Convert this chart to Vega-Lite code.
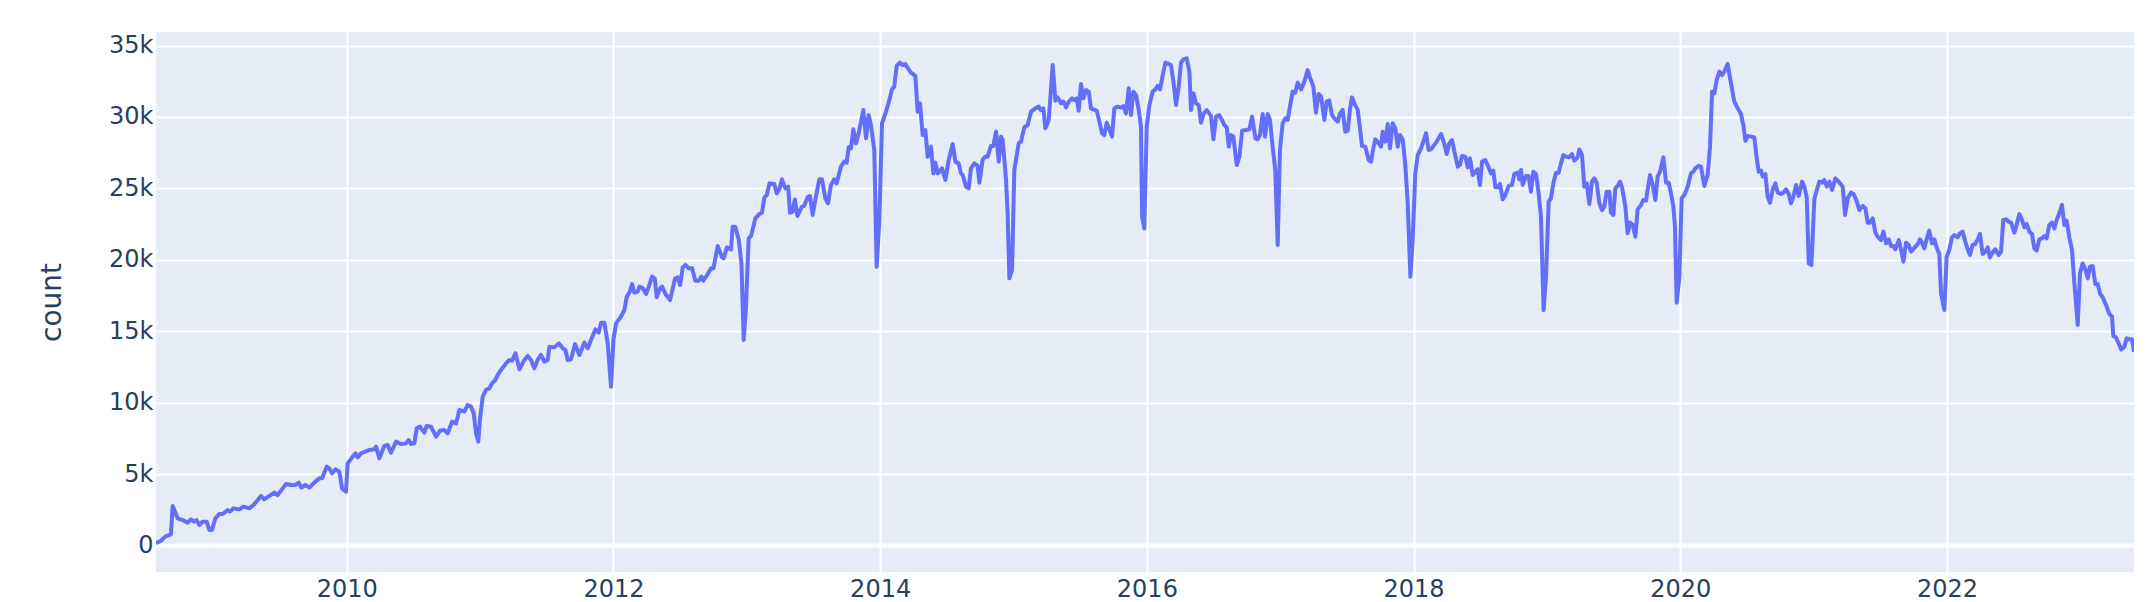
{
"$schema": "https://vega.github.io/schema/vega-lite/v6.json",
"width": 1978, "height": 540,
"autosize": {"type": "none"},
"padding": {"left": 156, "top": 32, "right": 20, "bottom": 30},
"background": "white",
"config": {"view": {"fill": "#E5ECF6", "stroke": null}, "font": "DejaVu Sans"},
"layer": [
{"data": {"values": [{"count": 0}]},
 "mark": {"type": "rule", "color": "white", "strokeWidth": 4},
 "encoding": {"y": {"field": "count", "type": "quantitative"}}},
{"data": {"values": [
{"year":2008.570,"count":150},{"year":2008.607,"count":340},{"year":2008.645,"count":660},{"year":2008.682,"count":780},{"year":2008.695,"count":2770},{"year":2008.732,"count":1900},{"year":2008.770,"count":1780},{"year":2008.807,"count":1600},{"year":2008.832,"count":1830},{"year":2008.857,"count":1670},{"year":2008.875,"count":1780},{"year":2008.895,"count":1430},{"year":2008.920,"count":1670},{"year":2008.950,"count":1670},{"year":2008.970,"count":1090},{"year":2008.990,"count":1090},{"year":2009.015,"count":1900},{"year":2009.045,"count":2200},{"year":2009.070,"count":2200},{"year":2009.107,"count":2480},{"year":2009.125,"count":2370},{"year":2009.150,"count":2600},{"year":2009.195,"count":2530},{"year":2009.225,"count":2720},{"year":2009.270,"count":2600},{"year":2009.300,"count":2830},{"year":2009.327,"count":3120},{"year":2009.357,"count":3470},{"year":2009.382,"count":3230},{"year":2009.420,"count":3470},{"year":2009.457,"count":3700},{"year":2009.482,"count":3530},{"year":2009.515,"count":3930},{"year":2009.545,"count":4300},{"year":2009.582,"count":4240},{"year":2009.615,"count":4240},{"year":2009.640,"count":4400},{"year":2009.662,"count":4050},{"year":2009.690,"count":4240},{"year":2009.720,"count":4050},{"year":2009.757,"count":4400},{"year":2009.795,"count":4700},{"year":2009.815,"count":4700},{"year":2009.850,"count":5520},{"year":2009.870,"count":5400},{"year":2009.890,"count":5050},{"year":2009.915,"count":5330},{"year":2009.945,"count":5170},{"year":2009.965,"count":4000},{"year":2009.995,"count":3770},{"year":2010.007,"count":5750},{"year":2010.045,"count":6220},{"year":2010.065,"count":6450},{"year":2010.082,"count":6170},{"year":2010.107,"count":6450},{"year":2010.170,"count":6690},{"year":2010.207,"count":6730},
{"year":2010.220,"count":6920},{"year":2010.245,"count":6100},{"year":2010.282,"count":6970},{"year":2010.307,"count":7040},{"year":2010.332,"count":6500},{"year":2010.370,"count":7270},{"year":2010.407,"count":7100},{"year":2010.445,"count":7150},{"year":2010.465,"count":7380},{"year":2010.482,"count":7100},{"year":2010.507,"count":7150},{"year":2010.525,"count":8200},{"year":2010.550,"count":8320},{"year":2010.582,"count":7900},{"year":2010.600,"count":8370},{"year":2010.632,"count":8320},{"year":2010.670,"count":7620},{"year":2010.700,"count":8040},{"year":2010.732,"count":8080},{"year":2010.757,"count":7850},{"year":2010.790,"count":8670},{"year":2010.820,"count":8550},{"year":2010.845,"count":9490},{"year":2010.882,"count":9370},{"year":2010.907,"count":9840},{"year":2010.932,"count":9720},{"year":2010.952,"count":9250},{"year":2010.970,"count":7850},{"year":2010.987,"count":7270},{"year":2011.000,"count":8900},{"year":2011.020,"count":10420},{"year":2011.045,"count":10900},{"year":2011.070,"count":11000},{"year":2011.090,"count":11350},{"year":2011.115,"count":11600},{"year":2011.132,"count":11930},{"year":2011.157,"count":12290},{"year":2011.195,"count":12750},{"year":2011.220,"count":12990},{"year":2011.240,"count":12940},{"year":2011.265,"count":13450},{"year":2011.295,"count":12330},{"year":2011.332,"count":12990},{"year":2011.357,"count":13270},{"year":2011.382,"count":12990},{"year":2011.407,"count":12400},{"year":2011.432,"count":12990},{"year":2011.457,"count":13340},{"year":2011.482,"count":12870},{"year":2011.507,"count":12990},{"year":2011.520,"count":13920},{"year":2011.557,"count":13870},{"year":2011.590,"count":14150},{"year":2011.620,"count":13800},{"year":2011.640,"count":13690},{"year":2011.657,"count":12990},{"year":2011.682,"count":13030},{"year":2011.712,"count":14100},{"year":2011.745,"count":13340},{"year":2011.782,"count":14200},{"year":2011.807,"count":13800},{"year":2011.832,"count":14390},{"year":2011.865,"count":15130},
{"year":2011.890,"count":14900},{"year":2011.907,"count":15600},{"year":2011.932,"count":15600},{"year":2011.957,"count":14150},{"year":2011.982,"count":11120},{"year":2012.000,"count":14390},{"year":2012.020,"count":15550},{"year":2012.057,"count":16020},{"year":2012.082,"count":16480},{"year":2012.100,"count":17420},{"year":2012.120,"count":17700},{"year":2012.140,"count":18300},{"year":2012.157,"count":17700},{"year":2012.182,"count":17770},{"year":2012.195,"count":18120},{"year":2012.220,"count":18000},{"year":2012.245,"count":17600},{"year":2012.265,"count":18120},{"year":2012.290,"count":18820},{"year":2012.310,"count":18700},{"year":2012.325,"count":17370},{"year":2012.350,"count":18000},{"year":2012.365,"count":18120},{"year":2012.395,"count":17530},{"year":2012.425,"count":17190},{"year":2012.462,"count":18700},{"year":2012.482,"count":18770},{"year":2012.500,"count":18230},{"year":2012.520,"count":19470},{"year":2012.540,"count":19640},{"year":2012.565,"count":19400},{"year":2012.590,"count":19400},{"year":2012.614,"count":18540},{"year":2012.640,"count":18540},{"year":2012.660,"count":18820},{"year":2012.674,"count":18540},{"year":2012.707,"count":19000},{"year":2012.732,"count":19400},{"year":2012.750,"count":19400},{"year":2012.782,"count":20960},{"year":2012.814,"count":20170},{"year":2012.827,"count":20100},{"year":2012.850,"count":20870},{"year":2012.882,"count":20730},{"year":2012.894,"count":22320},{"year":2012.914,"count":22320},{"year":2012.940,"count":21380},{"year":2012.960,"count":19750},{"year":2012.977,"count":14390},{"year":2012.994,"count":16720},{"year":2013.014,"count":21500},{"year":2013.032,"count":21670},{"year":2013.064,"count":22900},{"year":2013.094,"count":23200},{"year":2013.114,"count":23300},{"year":2013.132,"count":24370},{"year":2013.150,"count":24530},{"year":2013.170,"count":25350},{"year":2013.207,"count":25300},{"year":2013.224,"count":24650},{"year":2013.244,"count":24930},{"year":2013.264,"count":25630},{"year":2013.289,"count":25000},{"year":2013.310,"count":25120},{"year":2013.324,"count":23300},{"year":2013.344,"count":23370},{"year":2013.360,"count":24230},{"year":2013.380,"count":23070},{"year":2013.414,"count":23720},{"year":2013.430,"count":23770},{"year":2013.456,"count":24370},{"year":2013.474,"count":24460},{"year":2013.494,"count":23140},{"year":2013.520,"count":24500},
{"year":2013.544,"count":25630},{"year":2013.564,"count":25630},{"year":2013.589,"count":24300},{"year":2013.609,"count":23950},{"year":2013.631,"count":25240},{"year":2013.656,"count":25630},{"year":2013.674,"count":25350},{"year":2013.706,"count":26520},{"year":2013.731,"count":26870},{"year":2013.749,"count":26800},{"year":2013.764,"count":27870},{"year":2013.781,"count":27800},{"year":2013.799,"count":29130},{"year":2013.819,"count":28150},{"year":2013.839,"count":28850},{"year":2013.874,"count":30480},{"year":2013.894,"count":28500},{"year":2013.914,"count":30130},{"year":2013.931,"count":29430},{"year":2013.956,"count":27680},{"year":2013.974,"count":19520},{"year":2013.994,"count":22780},{"year":2014.014,"count":29550},{"year":2014.044,"count":30370},{"year":2014.069,"count":31180},{"year":2014.089,"count":31930},{"year":2014.106,"count":32120},{"year":2014.124,"count":33570},{"year":2014.149,"count":33800},{"year":2014.169,"count":33630},{"year":2014.189,"count":33700},{"year":2014.214,"count":33330},{"year":2014.231,"count":33100},{"year":2014.264,"count":32870},{"year":2014.281,"count":30370},{"year":2014.299,"count":30950},{"year":2014.319,"count":28730},{"year":2014.339,"count":29080},{"year":2014.356,"count":27220},{"year":2014.381,"count":27920},{"year":2014.399,"count":26050},{"year":2014.414,"count":26800},{"year":2014.431,"count":26050},{"year":2014.464,"count":26400},{"year":2014.489,"count":25590},{"year":2014.514,"count":26980},{"year":2014.544,"count":28100},{"year":2014.564,"count":26870},{"year":2014.589,"count":26750},{"year":2014.606,"count":26050},{"year":2014.619,"count":25940},{"year":2014.644,"count":25120},{"year":2014.664,"count":25000},{"year":2014.681,"count":26400},{"year":2014.706,"count":26750},{"year":2014.731,"count":26570},{"year":2014.744,"count":25400},{"year":2014.769,"count":27030},{"year":2014.789,"count":27220},{"year":2014.806,"count":27220},{"year":2014.831,"count":27970},{"year":2014.849,"count":27970},{"year":2014.869,"count":28970},{"year":2014.889,"count":26870},{"year":2014.906,"count":28620},{"year":2014.919,"count":28380},{"year":2014.944,"count":25590},{"year":2014.956,"count":23250},{"year":2014.969,"count":18700},{"year":2014.989,"count":19290},{"year":2015.006,"count":26280},{"year":2015.039,"count":28150},{"year":2015.056,"count":28270},{"year":2015.081,"count":29270},{"year":2015.106,"count":29430},{"year":2015.131,"count":30370},{"year":2015.164,"count":30600},
{"year":2015.189,"count":30720},{"year":2015.206,"count":30480},{"year":2015.224,"count":30600},{"year":2015.239,"count":29200},{"year":2015.264,"count":29780},{"year":2015.294,"count":33630},{"year":2015.314,"count":31140},{"year":2015.331,"count":31370},{"year":2015.356,"count":30950},{"year":2015.374,"count":31070},{"year":2015.394,"count":30670},{"year":2015.414,"count":31070},{"year":2015.439,"count":31300},{"year":2015.456,"count":31180},{"year":2015.474,"count":31300},{"year":2015.489,"count":30440},{"year":2015.506,"count":32300},{"year":2015.524,"count":31300},{"year":2015.544,"count":31880},{"year":2015.564,"count":31770},{"year":2015.581,"count":30600},{"year":2015.599,"count":30530},{"year":2015.624,"count":30440},{"year":2015.644,"count":29670},{"year":2015.664,"count":28850},{"year":2015.681,"count":28730},{"year":2015.699,"count":29600},{"year":2015.719,"count":29130},{"year":2015.739,"count":28620},{"year":2015.756,"count":30600},{"year":2015.781,"count":30720},{"year":2015.806,"count":30650},{"year":2015.824,"count":30760},{"year":2015.844,"count":30250},{"year":2015.864,"count":32000},{"year":2015.881,"count":30130},{"year":2015.899,"count":31770},{"year":2015.919,"count":31540},{"year":2015.939,"count":30480},{"year":2015.956,"count":29320},{"year":2015.964,"count":23020},{"year":2015.981,"count":22200},{"year":2015.999,"count":29320},{"year":2016.019,"count":30830},{"year":2016.044,"count":31770},{"year":2016.064,"count":31930},{"year":2016.081,"count":32170},{"year":2016.099,"count":31930},{"year":2016.119,"count":32930},{"year":2016.139,"count":33800},{"year":2016.164,"count":33700},{"year":2016.181,"count":33630},{"year":2016.199,"count":32470},{"year":2016.219,"count":30830},{"year":2016.239,"count":32120},{"year":2016.256,"count":33800},{"year":2016.274,"count":34030},{"year":2016.299,"count":34100},{"year":2016.319,"count":33170},{"year":2016.331,"count":30480},{"year":2016.349,"count":31650},{"year":2016.369,"count":30950},{"year":2016.389,"count":30830},{"year":2016.406,"count":29600},{"year":2016.424,"count":30200},{"year":2016.449,"count":30480},{"year":2016.481,"count":30070},{"year":2016.499,"count":28430},{"year":2016.519,"count":30020},{"year":2016.544,"count":30130},{"year":2016.564,"count":29780},{"year":2016.581,"count":29430},{"year":2016.599,"count":29270},{"year":2016.614,"count":27920},{"year":2016.631,"count":28730},{"year":2016.649,"count":28620},{"year":2016.674,"count":26630},{"year":2016.694,"count":27220},{"year":2016.714,"count":29040},{"year":2016.744,"count":29080},{"year":2016.769,"count":29130},{"year":2016.789,"count":30020},{"year":2016.814,"count":28500},
{"year":2016.831,"count":28430},{"year":2016.848,"count":28730},{"year":2016.868,"count":30200},{"year":2016.886,"count":28620},{"year":2016.906,"count":30200},{"year":2016.923,"count":29790},{"year":2016.943,"count":27920},{"year":2016.963,"count":26290},{"year":2016.981,"count":21040},{"year":2016.998,"count":27690},{"year":2017.018,"count":29550},{"year":2017.038,"count":29900},{"year":2017.056,"count":29790},{"year":2017.073,"count":30720},{"year":2017.093,"count":31770},{"year":2017.113,"count":31700},{"year":2017.131,"count":32400},{"year":2017.156,"count":31930},{"year":2017.181,"count":32470},{"year":2017.206,"count":33280},{"year":2017.223,"count":32770},{"year":2017.248,"count":32120},{"year":2017.268,"count":30300},{"year":2017.288,"count":31610},{"year":2017.306,"count":31420},{"year":2017.331,"count":29790},{"year":2017.348,"count":31070},{"year":2017.368,"count":31140},{"year":2017.388,"count":30140},{"year":2017.406,"count":29900},{"year":2017.431,"count":29670},{"year":2017.448,"count":30250},{"year":2017.468,"count":30490},{"year":2017.488,"count":28970},{"year":2017.506,"count":29040},{"year":2017.523,"count":30530},{"year":2017.538,"count":31370},{"year":2017.556,"count":30950},{"year":2017.581,"count":30490},{"year":2017.598,"count":29200},{"year":2017.613,"count":27960},{"year":2017.638,"count":27920},{"year":2017.663,"count":26990},{"year":2017.681,"count":26870},{"year":2017.698,"count":27800},{"year":2017.713,"count":28430},{"year":2017.738,"count":28150},{"year":2017.756,"count":27920},{"year":2017.768,"count":28970},{"year":2017.788,"count":28270},{"year":2017.806,"count":29500},{"year":2017.823,"count":27800},{"year":2017.843,"count":29550},{"year":2017.863,"count":29200},{"year":2017.881,"count":27920},{"year":2017.898,"count":28730},{"year":2017.918,"count":28430},{"year":2017.938,"count":26640},{"year":2017.956,"count":23950},{"year":2017.976,"count":18820},{"year":2017.993,"count":21380},{"year":2018.013,"count":26050},{"year":2018.031,"count":27330},{"year":2018.056,"count":27800},{"year":2018.073,"count":28270},{"year":2018.093,"count":28850},{"year":2018.113,"count":27690},{"year":2018.131,"count":27730},{"year":2018.168,"count":28200},{"year":2018.206,"count":28800},{"year":2018.231,"count":28100},{"year":2018.248,"count":27400},{"year":2018.268,"count":28150},{"year":2018.288,"count":28380},{"year":2018.313,"count":27270},{"year":2018.331,"count":26520},{"year":2018.348,"count":26640},{"year":2018.363,"count":27270},{"year":2018.388,"count":27220},{"year":2018.406,"count":26470},{"year":2018.423,"count":27100},{"year":2018.443,"count":25940},{"year":2018.463,"count":26170},
{"year":2018.480,"count":26330},{"year":2018.498,"count":25240},{"year":2018.513,"count":26870},{"year":2018.538,"count":26980},{"year":2018.563,"count":26470},{"year":2018.580,"count":26050},{"year":2018.598,"count":26240},{"year":2018.613,"count":25070},{"year":2018.630,"count":25070},{"year":2018.648,"count":25310},{"year":2018.668,"count":24230},{"year":2018.688,"count":24530},{"year":2018.713,"count":25170},{"year":2018.738,"count":25240},{"year":2018.755,"count":26000},{"year":2018.780,"count":26100},{"year":2018.793,"count":25630},{"year":2018.805,"count":26280},{"year":2018.818,"count":25240},{"year":2018.843,"count":25870},{"year":2018.863,"count":25870},{"year":2018.880,"count":24770},{"year":2018.898,"count":26170},{"year":2018.918,"count":26000},{"year":2018.938,"count":24650},{"year":2018.955,"count":23020},{"year":2018.975,"count":16480},{"year":2018.993,"count":18820},{"year":2019.013,"count":24070},{"year":2019.030,"count":24300},{"year":2019.048,"count":25350},{"year":2019.068,"count":26100},{"year":2019.088,"count":26100},{"year":2019.105,"count":26750},{"year":2019.123,"count":27330},{"year":2019.143,"count":27220},{"year":2019.163,"count":27170},{"year":2019.188,"count":27400},{"year":2019.205,"count":26940},{"year":2019.230,"count":27170},{"year":2019.243,"count":27730},{"year":2019.263,"count":27330},{"year":2019.280,"count":25120},{"year":2019.298,"count":25350},{"year":2019.318,"count":23900},{"year":2019.338,"count":25470},{"year":2019.355,"count":25700},{"year":2019.373,"count":25400},{"year":2019.393,"count":23950},{"year":2019.413,"count":23480},{"year":2019.430,"count":23720},{"year":2019.448,"count":24770},{"year":2019.468,"count":24770},{"year":2019.480,"count":23300},{"year":2019.498,"count":23140},{"year":2019.513,"count":25000},{"year":2019.530,"count":25170},{"year":2019.548,"count":25470},{"year":2019.563,"count":25070},{"year":2019.588,"count":23720},{"year":2019.605,"count":21850},{"year":2019.623,"count":22600},{"year":2019.643,"count":22440},{"year":2019.663,"count":21620},{"year":2019.680,"count":23530},{"year":2019.705,"count":23840},{"year":2019.723,"count":24190},{"year":2019.743,"count":24140},{"year":2019.755,"count":24890},{"year":2019.773,"count":25940},{"year":2019.793,"count":25240},{"year":2019.813,"count":24190},{"year":2019.830,"count":25820},{"year":2019.848,"count":26170},{"year":2019.873,"count":27170},{"year":2019.893,"count":25400},{"year":2019.913,"count":25400},{"year":2019.930,"count":24650},{"year":2019.948,"count":23720},{"year":2019.960,"count":22320},{"year":2019.973,"count":17000},{"year":2019.993,"count":18820},{"year":2020.010,"count":24300},{"year":2020.030,"count":24530},{"year":2020.055,"count":25120},{"year":2020.080,"count":26050},{"year":2020.098,"count":26170},{"year":2020.113,"count":26400},
{"year":2020.138,"count":26570},{"year":2020.155,"count":26520},{"year":2020.180,"count":25170},{"year":2020.205,"count":25940},{"year":2020.223,"count":27920},{"year":2020.238,"count":31770},{"year":2020.255,"count":31650},{"year":2020.273,"count":32590},{"year":2020.293,"count":33170},{"year":2020.313,"count":32930},{"year":2020.330,"count":33170},{"year":2020.355,"count":33700},{"year":2020.380,"count":32350},{"year":2020.405,"count":31070},{"year":2020.430,"count":30600},{"year":2020.455,"count":30200},{"year":2020.473,"count":29430},{"year":2020.488,"count":28340},{"year":2020.505,"count":28660},{"year":2020.530,"count":28620},{"year":2020.555,"count":28570},{"year":2020.573,"count":27100},{"year":2020.588,"count":26170},{"year":2020.605,"count":26240},{"year":2020.618,"count":25820},{"year":2020.638,"count":26000},{"year":2020.655,"count":24420},{"year":2020.673,"count":24000},{"year":2020.693,"count":24930},{"year":2020.713,"count":25350},{"year":2020.730,"count":24700},{"year":2020.755,"count":24610},{"year":2020.773,"count":24700},{"year":2020.793,"count":24930},{"year":2020.813,"count":24610},{"year":2020.830,"count":23950},{"year":2020.848,"count":24420},{"year":2020.868,"count":25240},{"year":2020.888,"count":24470},{"year":2020.913,"count":25470},{"year":2020.930,"count":25120},{"year":2020.948,"count":24370},{"year":2020.963,"count":19750},{"year":2020.983,"count":19630},{"year":2021.005,"count":24230},{"year":2021.023,"count":24880},{"year":2021.043,"count":25470},{"year":2021.063,"count":25400},{"year":2021.080,"count":25590},{"year":2021.098,"count":25120},{"year":2021.118,"count":25470},{"year":2021.138,"count":24880},{"year":2021.163,"count":25700},{"year":2021.188,"count":25470},{"year":2021.218,"count":25120},{"year":2021.235,"count":23140},{"year":2021.255,"count":24300},{"year":2021.280,"count":24700},{"year":2021.298,"count":24610},{"year":2021.318,"count":24230},{"year":2021.343,"count":23480},{"year":2021.368,"count":23770},{"year":2021.388,"count":23600},{"year":2021.405,"count":22600},{"year":2021.423,"count":22600},{"year":2021.443,"count":22900},{"year":2021.463,"count":21900},{"year":2021.480,"count":21620},{"year":2021.505,"count":21380},{"year":2021.523,"count":21970},{"year":2021.543,"count":21150},{"year":2021.563,"count":21430},{"year":2021.580,"count":20960},{"year":2021.598,"count":20960},{"year":2021.613,"count":20730},{"year":2021.638,"count":21380},{"year":2021.655,"count":20730},{"year":2021.673,"count":19870},{"year":2021.693,"count":21200},{"year":2021.713,"count":21030},{"year":2021.730,"count":20570},{"year":2021.763,"count":20920},
{"year":2021.780,"count":21100},{"year":2021.797,"count":21430},{"year":2021.812,"count":21200},{"year":2021.830,"count":20800},{"year":2021.847,"count":21430},{"year":2021.867,"count":22040},{"year":2021.887,"count":21150},{"year":2021.905,"count":21430},{"year":2021.922,"count":20870},{"year":2021.942,"count":20410},{"year":2021.955,"count":17650},{"year":2021.980,"count":16490},{"year":2021.997,"count":20220},{"year":2022.017,"count":20690},{"year":2022.037,"count":21570},{"year":2022.055,"count":21730},{"year":2022.080,"count":21570},{"year":2022.097,"count":21850},{"year":2022.117,"count":21970},{"year":2022.137,"count":21270},{"year":2022.155,"count":20730},{"year":2022.172,"count":20340},{"year":2022.192,"count":21040},{"year":2022.212,"count":21100},{"year":2022.230,"count":21430},{"year":2022.247,"count":21810},{"year":2022.267,"count":20410},{"year":2022.287,"count":20570},{"year":2022.305,"count":20870},{"year":2022.322,"count":20170},{"year":2022.337,"count":20450},{"year":2022.362,"count":20730},{"year":2022.387,"count":20340},{"year":2022.405,"count":20570},{"year":2022.422,"count":22790},{"year":2022.442,"count":22830},{"year":2022.462,"count":22670},{"year":2022.480,"count":22600},{"year":2022.505,"count":21900},{"year":2022.522,"count":22440},{"year":2022.542,"count":23200},{"year":2022.562,"count":22790},{"year":2022.580,"count":22270},{"year":2022.597,"count":22510},{"year":2022.617,"count":21970},{"year":2022.637,"count":21810},{"year":2022.655,"count":20800},{"year":2022.672,"count":20640},{"year":2022.692,"count":21430},{"year":2022.712,"count":21500},{"year":2022.730,"count":21660},{"year":2022.747,"count":21500},{"year":2022.767,"count":22440},{"year":2022.787,"count":22600},{"year":2022.805,"count":22200},{"year":2022.822,"count":22790},{"year":2022.842,"count":23250},{"year":2022.862,"count":23840},{"year":2022.880,"count":22440},{"year":2022.897,"count":22740},{"year":2022.917,"count":21570},{"year":2022.937,"count":20690},{"year":2022.955,"count":18350},{"year":2022.980,"count":15440},{"year":2022.997,"count":19050},{"year":2023.017,"count":19750},{"year":2023.037,"count":19330},{"year":2023.055,"count":18700},{"year":2023.072,"count":19520},{"year":2023.092,"count":19570},{"year":2023.112,"count":18310},{"year":2023.130,"count":18310},{"year":2023.147,"count":17650},{"year":2023.167,"count":17370},{"year":2023.192,"count":16840},{"year":2023.217,"count":16210},{"year":2023.237,"count":16020},{"year":2023.247,"count":14670},{"year":2023.267,"count":14570},{"year":2023.287,"count":14150},{"year":2023.305,"count":13730},{"year":2023.330,"count":13920},{"year":2023.347,"count":14500},{"year":2023.367,"count":14430},{"year":2023.387,"count":14430},{"year":2023.402,"count":13570}
]},
 "mark": {"type": "line", "color": "#636efa", "strokeWidth": 4, "strokeJoin": "round", "clip": true},
 "encoding": {
  "x": {"field": "year", "type": "quantitative",
        "scale": {"domain": [2008.570, 2023.402], "nice": false, "zero": false},
        "axis": {"values": [2010, 2012, 2014, 2016, 2018, 2020, 2022], "format": "d", "title": null,
                 "grid": true, "gridColor": "white", "gridWidth": 2, "domain": false, "ticks": false, "tickSize": 0,
                 "labelFontSize": 24, "labelColor": "#2a3f5f", "labelPadding": 24, "labelBaseline": "alphabetic", "labelFlush": false, "labelOverlap": false, "labelFont": "DejaVu Sans"}},
  "y": {"field": "count", "type": "quantitative",
        "scale": {"domain": [-1855, 35945], "nice": false, "zero": false},
        "axis": {"values": [0, 5000, 10000, 15000, 20000, 25000, 30000, 35000],
                 "labelExpr": "datum.value === 0 ? '0' : (datum.value / 1000) + 'k'", "title": "count",
                 "grid": true, "gridColor": "white", "gridWidth": 2, "domain": false, "ticks": false, "tickSize": 0,
                 "labelFontSize": 24, "labelColor": "#2a3f5f", "labelPadding": 3, "labelFont": "DejaVu Sans",
                 "titleFont": "DejaVu Sans", "titleFontSize": 28, "titleFontWeight": "normal", "titleColor": "#2a3f5f",
                 "titleX": -104, "titleY": 270, "titleAngle": 270, "titleAlign": "center", "titleBaseline": "middle"}}
 }}
]
}
